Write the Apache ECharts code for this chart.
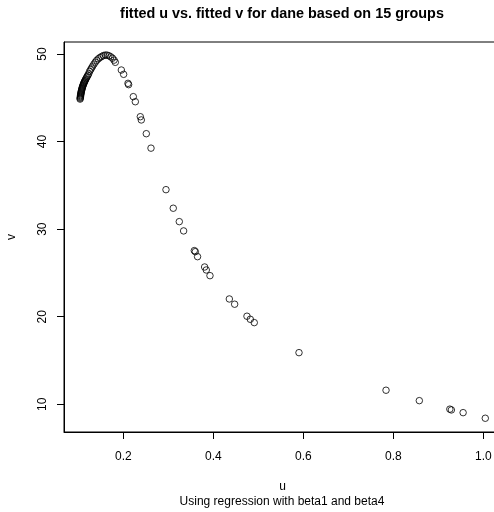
<!DOCTYPE html>
<html>
<head>
<meta charset="utf-8">
<script src="https://cdn.jsdelivr.net/npm/echarts@6/dist/echarts.min.js"></script>
<style>
html,body{margin:0;padding:0;background:#fff;}
#chart{width:494px;height:512px;}
</style>
</head>
<body>
<div id="chart"></div>
<script>
var uValues = [
  0.1040,0.1042,0.1045,0.1048,0.1050,0.1053,0.1056,0.1060,0.1064,0.1068,
  0.1072,0.1077,0.1082,0.1088,0.1094,0.1100,0.1107,0.1114,0.1122,0.1130,
  0.1139,0.1148,0.1158,0.1170,0.1183,0.1197,0.1212,0.1230,0.1250,0.1272,
  0.1295,0.1320,0.1348,0.1378,0.1410,0.1445,0.1482,0.1520,0.1560,0.1600,
  0.1640,0.1680,0.1720,0.1760,0.1795,0.1822,
  0.1956,0.2007,0.2104,0.2118,0.2222,0.2267,0.2378,0.2400,0.2511,0.2615,
  0.2948,0.3110,0.3244,0.3340,0.3578,0.3600,0.3650,0.3807,0.3844,0.3926,
  0.4356,0.4474,0.4748,0.4822,0.4910,0.5904,0.7838,0.8578,0.9256,0.9290,
  0.9551,1.0044
];
var vValues = [
  44.85,44.95,45.05,45.15,45.25,45.35,45.45,45.55,45.65,45.75,
  45.85,45.95,46.05,46.15,46.25,46.35,46.45,46.55,46.65,46.75,
  46.85,46.95,47.05,47.17,47.30,47.43,47.57,47.73,48.00,48.20,
  48.40,48.62,48.85,49.07,49.28,49.45,49.60,49.72,49.82,49.88,
  49.87,49.80,49.68,49.52,49.30,49.05,
  48.17,47.68,46.65,46.50,45.13,44.55,42.84,42.47,40.90,39.25,
  34.51,32.39,30.86,29.80,27.55,27.43,26.86,25.68,25.34,24.69,
  22.03,21.43,20.06,19.71,19.33,15.90,11.61,10.42,9.45,9.36,
  9.05,8.41
];
var xTicks = [0.2, 0.4, 0.6, 0.8, 1.0];
var yTicks = [10, 20, 30, 40, 50];
var titleText = 'fitted u vs. fitted v for dane based on 15 groups';
var subText = 'Using regression with beta1 and beta4';

var points = uValues.map(function(u, i){ return [u, vValues[i]]; });
var FONT = '"Liberation Sans", Arial, sans-serif';

var chart = echarts.init(document.getElementById('chart'), null, {renderer:'canvas'});
chart.setOption({
  animation: false,
  backgroundColor: '#fff',
  grid: {
    left: 64, top: 42, width: 437, height: 390,
    show: true, borderColor: '#000', borderWidth: 1, backgroundColor: 'transparent',
    containLabel: false, outerBoundsMode: 'none'
  },
  xAxis: {
    type: 'value', min: 0.0682, max: 1.0393,
    name: 'u', nameLocation: 'middle', nameGap: 49,
    nameTextStyle: {fontFamily: FONT, fontSize: 12, color: '#000'},
    splitLine: {show: false},
    axisLine: {show: true, lineStyle: {color: '#000', width: 1}},
    axisTick: {show: true, length: 7, inside: false, customValues: xTicks, lineStyle: {color: '#000'}},
    axisLabel: {show: true, customValues: xTicks, margin: 19, fontFamily: FONT, fontSize: 12, color: '#000',
      formatter: function(v){ return v.toFixed(1); }}
  },
  yAxis: {
    type: 'value', min: 6.84, max: 51.37,
    name: 'v', nameLocation: 'middle', nameGap: 46, nameRotate: 90,
    nameTextStyle: {fontFamily: FONT, fontSize: 12, color: '#000'},
    splitLine: {show: false},
    axisLine: {show: true, lineStyle: {color: '#000', width: 1}},
    axisTick: {show: true, length: 7, customValues: yTicks, lineStyle: {color: '#000'}},
    axisLabel: {show: true, customValues: yTicks, rotate: 90, margin: 15, fontFamily: FONT, fontSize: 12, color: '#000'}
  },
  graphic: [
    {type: 'text', x: 282, y: 14, style: {text: titleText,
      font: 'bold 14.4px "Liberation Sans", Arial, sans-serif', fill: '#000', textAlign: 'center', textVerticalAlign: 'middle'}},
    {type: 'text', x: 282, y: 502, style: {text: subText,
      font: '12px "Liberation Sans", Arial, sans-serif', fill: '#000', textAlign: 'center', textVerticalAlign: 'middle'}}
  ],
  series: [{
    type: 'scatter',
    data: points,
    symbol: 'circle',
    symbolSize: 6.5,
    clip: false,
    itemStyle: {color: 'transparent', borderColor: '#000', borderWidth: 1},
    emphasis: {disabled: true}
  }]
});
</script>
</body>
</html>
